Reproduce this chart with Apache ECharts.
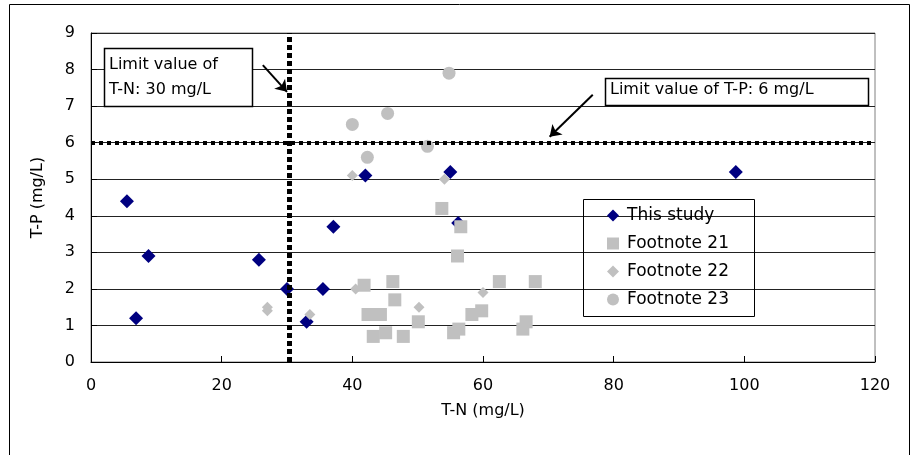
<!DOCTYPE html>
<html>
<head>
<meta charset="utf-8">
<script src="https://cdn.jsdelivr.net/npm/echarts@6/dist/echarts.min.js"></script>
<style>
  html, body { margin: 0; padding: 0; background: #fff; }
  #chart { width: 912px; height: 455px; }
</style>
</head>
<body>
<div id="chart"></div>
<script>
// T-N (x) vs T-P (y), mg/L
const thisStudy = [
  [5.5, 4.4], [8.8, 2.9], [6.9, 1.2], [25.7, 2.8], [30.0, 2.0], [35.5, 2.0],
  [37.1, 3.7], [33.0, 1.1], [42.0, 5.1], [55.0, 5.2], [56.2, 3.8], [98.7, 5.2]
];
const footnote21 = [
  [53.7, 4.2], [56.6, 3.7], [56.1, 2.9], [41.8, 2.1], [46.2, 2.2], [46.5, 1.7],
  [42.4, 1.3], [44.3, 1.3], [43.2, 0.7], [45.1, 0.8], [47.8, 0.7], [50.1, 1.1],
  [55.5, 0.8], [56.3, 0.9], [58.3, 1.3], [59.8, 1.4], [62.5, 2.2], [68.0, 2.2],
  [66.1, 0.9], [66.6, 1.1]
];
const footnote22 = [
  [27.0, 1.5], [27.0, 1.4], [33.5, 1.3], [40.0, 5.1], [54.1, 5.0], [40.5, 2.0],
  [50.2, 1.5], [60.0, 1.9]
];
const footnote23 = [
  [40.0, 6.5], [45.4, 6.8], [42.3, 5.6], [51.5, 5.9], [54.8, 7.9]
];
const seriesNames = ['This study', 'Footnote 21', 'Footnote 22', 'Footnote 23'];

// limit values (dotted lines)
const limitTN = 30.4;
const limitTP = 6;
// annotation arrows: [from, to] in data units
const arrows = [
  [[26.3, 8.12], [30.0, 7.39]],
  [[76.8, 7.31], [70.2, 6.16]]
];

const FONT = 'DejaVu Sans';
const chart = echarts.init(document.getElementById('chart'));

const pointSeries = (name, data, symbol, size, color) => ({
  name, type: 'scatter', data, symbol, symbolSize: size,
  itemStyle: {color, opacity: 1},
  emphasis: {disabled: true}
});

chart.setOption({
  animation: false,
  grid: {left: 91, right: 37, top: 33, bottom: 93, show: true, borderColor: '#808080', borderWidth: 1},
  xAxis: {
    type: 'value', min: 0, max: 120, interval: 20,
    name: 'T-N (mg/L)', nameLocation: 'middle', nameGap: 41,
    nameTextStyle: {fontFamily: FONT, fontSize: 16, color: '#000'},
    axisLine: {lineStyle: {color: '#000'}},
    axisTick: {inside: true, length: 6, lineStyle: {color: '#000'}},
    axisLabel: {fontFamily: FONT, fontSize: 16, color: '#000', margin: 16},
    splitLine: {show: false}
  },
  yAxis: {
    type: 'value', min: 0, max: 9, interval: 1,
    name: 'T-P (mg/L)', nameLocation: 'middle', nameGap: 45,
    nameTextStyle: {fontFamily: FONT, fontSize: 16, color: '#000'},
    axisLine: {show: true, lineStyle: {color: '#000'}},
    axisTick: {show: true, inside: true, length: 6, lineStyle: {color: '#000'}},
    axisLabel: {fontFamily: FONT, fontSize: 16, color: '#000', margin: 16},
    splitLine: {lineStyle: {color: '#222', width: 1}}
  },
  legend: {
    data: seriesNames,
    orient: 'vertical', left: 585, top: 199,
    padding: [8, 10, 6, 22],
    itemWidth: 12, itemHeight: 12, itemGap: 11, selectedMode: false,
    textStyle: {fontFamily: FONT, fontSize: 17, color: '#000', padding: [0, 0, 0, 3]}
  },
  graphic: [
    {type: 'rect', z: -1, silent: true,
     shape: {x: 9.5, y: 4.5, width: 900, height: 470},
     style: {fill: null, stroke: '#000', lineWidth: 1}},
    {type: 'rect', z: 5, silent: true,
     shape: {x: 583.5, y: 199.5, width: 171, height: 117},
     style: {fill: null, stroke: '#000', lineWidth: 1}},
    {type: 'rect', z: 50, silent: true,
     shape: {x: 104.5, y: 48.5, width: 148, height: 58},
     style: {fill: '#fff', stroke: '#000', lineWidth: 1.5}},
    {type: 'text', z: 51, silent: true, left: 109, top: 52,
     style: {text: 'Limit value of\nT-N: 30 mg/L', fill: '#000', font: '16px ' + FONT, lineHeight: 25}},
    {type: 'rect', z: 50, silent: true,
     shape: {x: 605.5, y: 78.5, width: 263, height: 27},
     style: {fill: '#fff', stroke: '#000', lineWidth: 1.5}},
    {type: 'text', z: 51, silent: true, left: 610, top: 82,
     style: {text: 'Limit value of T-P: 6 mg/L', fill: '#000', font: '16px ' + FONT}}
  ],
  series: [
    pointSeries(seriesNames[0], thisStudy, 'diamond', 14, '#000080'),
    pointSeries(seriesNames[1], footnote21, 'rect', 13, '#c0c0c0'),
    pointSeries(seriesNames[2], footnote22, 'diamond', 11, '#c0c0c0'),
    pointSeries(seriesNames[3], footnote23, 'circle', 13, '#c0c0c0'),
    {
      name: 'limits', type: 'scatter', data: [], z: 10,
      markLine: {
        silent: true, symbol: 'none', animation: false,
        label: {show: false},
        data: [
          {xAxis: limitTN, lineStyle: {color: '#000', width: 5, type: [5, 3], cap: 'butt'}},
          {yAxis: limitTP, lineStyle: {color: '#000', width: 4, type: [4, 4], cap: 'butt'}}
        ]
      }
    },
    {
      name: 'arrows', type: 'scatter', data: [], z: 11,
      markLine: {
        silent: true, symbol: ['none', 'arrow'], symbolSize: 11, animation: false,
        label: {show: false},
        lineStyle: {color: '#000', width: 2, type: 'solid'},
        data: arrows.map(([a, b]) => [{coord: a}, {coord: b}])
      }
    }
  ]
});
</script>
</body>
</html>
